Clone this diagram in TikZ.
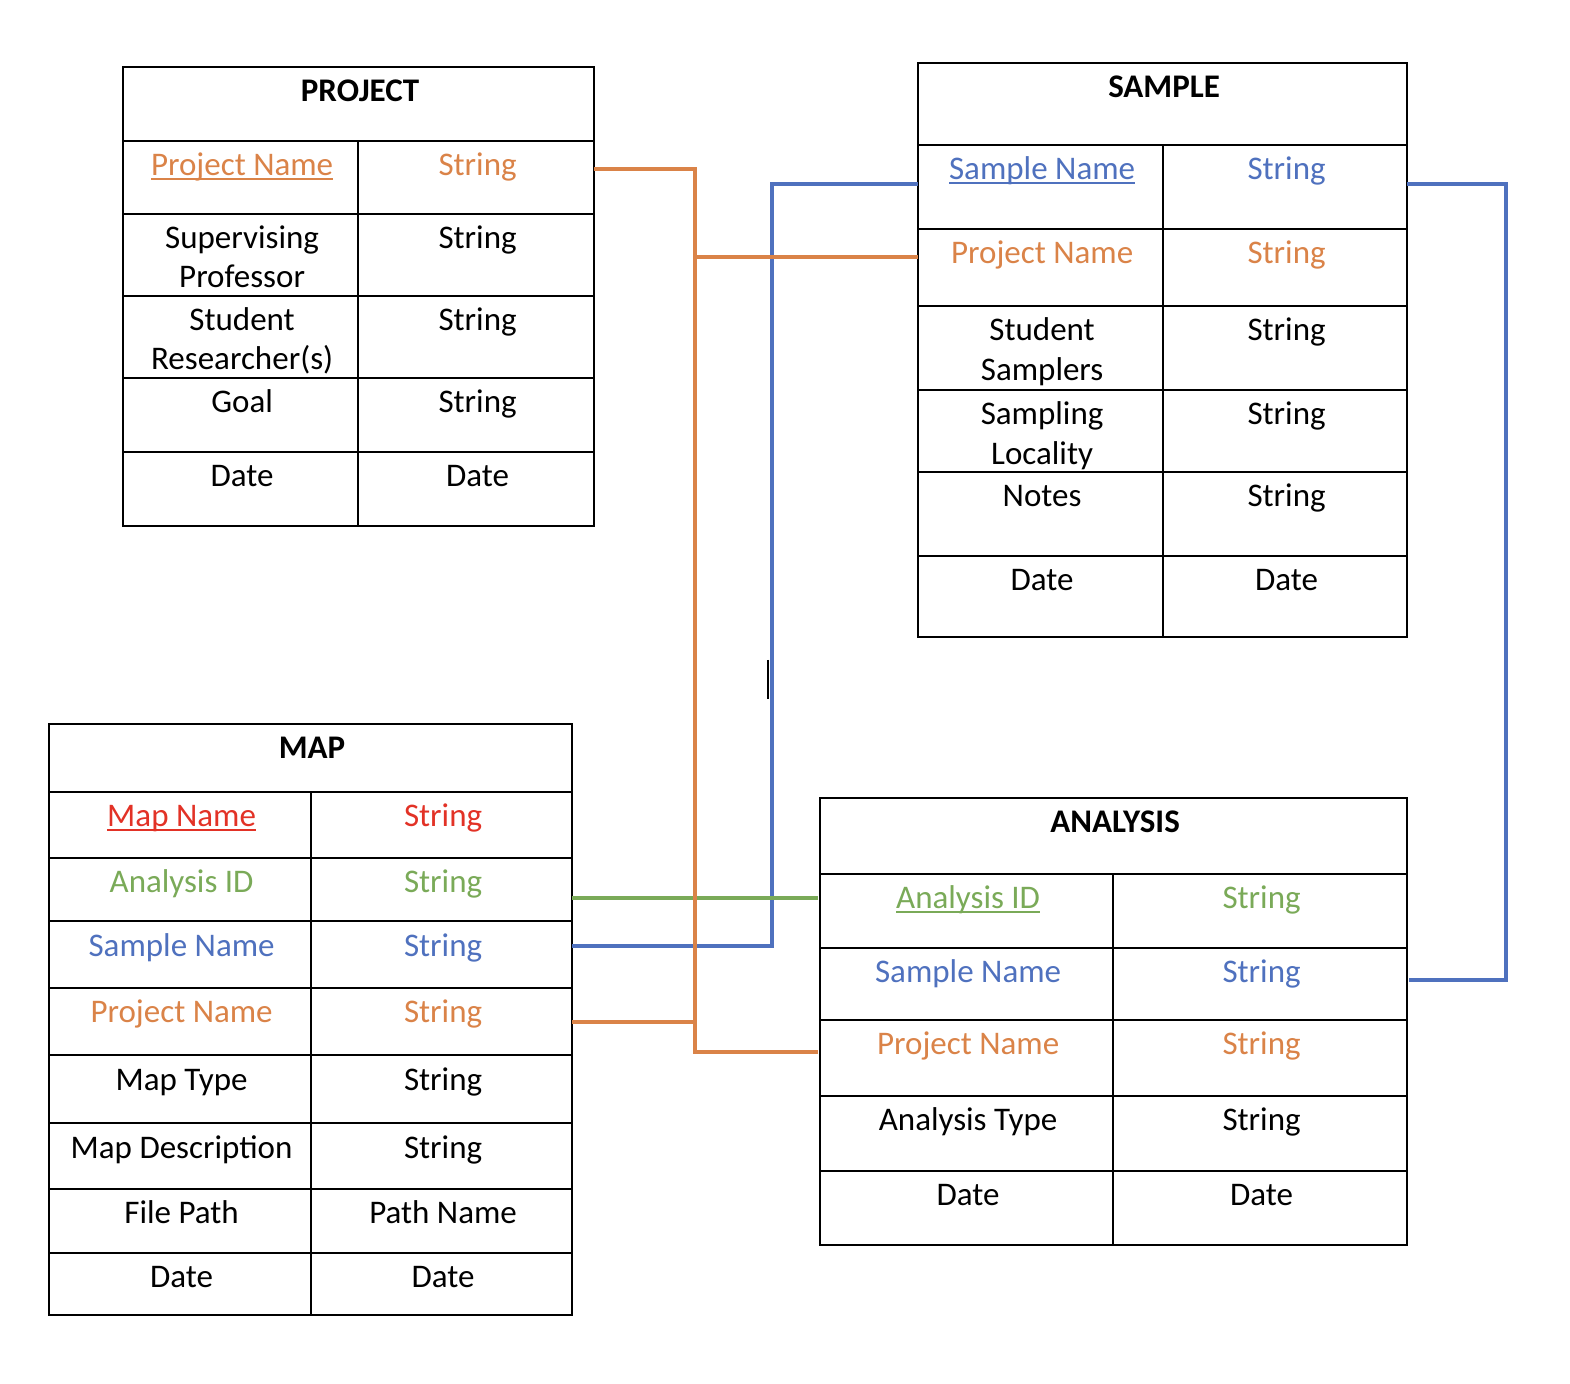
\documentclass[tikz,border=0pt]{standalone}
\usepackage{fontspec}
\setmainfont{Carlito}
\definecolor{orng}{RGB}{218,131,72}
\definecolor{blu}{RGB}{79,113,190}
\definecolor{grn}{RGB}{122,170,88}
\definecolor{rd}{RGB}{226,50,38}
\newcommand\myul[1]{\leavevmode\setbox0\hbox{#1}\rlap{\rule[-2.2pt]{\wd0}{0.9pt}}\box0}
\begin{document}
\begin{tikzpicture}[x=0.5pt,y=-0.5pt,
  tbl/.style={draw=black,line width=1.25pt},
  txt/.style={anchor=base,inner sep=0pt,xshift=0.8pt,yshift=-0.6pt,font=\fontsize{16.5}{18}\selectfont},
  hdr/.style={anchor=base,inner sep=0pt,xshift=0.8pt,yshift=-0.6pt,font=\fontsize{16.5}{18}\selectfont\bfseries},
  conn/.style={line width=1.7pt}]
\useasboundingbox (0,0) rectangle (1570,1384);

% ---------------- PROJECT ----------------
\draw[tbl] (123,67) rectangle (594,526);
\foreach \y in {141,214,296,378,452} \draw[tbl] (123,\y) -- (594,\y);
\draw[tbl] (358,141) -- (358,526);
\node[hdr] (p-h) at (358.5,100) {PROJECT};
\node[txt,orng] (p-1a) at (240.5,174) {\myul{Project Name}};
\node[txt,orng] (p-1b) at (476,174) {String};
\node[txt] (p-2a) at (240.5,247) {Supervising};
\node[txt] (p-2c) at (240.5,286) {Professor};
\node[txt] (p-2b) at (476,247) {String};
\node[txt] (p-3a) at (240.5,329) {Student};
\node[txt] (p-3c) at (240.5,368) {Researcher(s)};
\node[txt] (p-3b) at (476,329) {String};
\node[txt] (p-4a) at (240.5,411) {Goal};
\node[txt] (p-4b) at (476,411) {String};
\node[txt] (p-5a) at (240.5,485) {Date};
\node[txt] (p-5b) at (476,485) {Date};

% ---------------- SAMPLE ----------------
\draw[tbl] (918,63) rectangle (1407,637);
\foreach \y in {145,229,306,390,472,556} \draw[tbl] (918,\y) -- (1407,\y);
\draw[tbl] (1163,145) -- (1163,637);
\node[hdr] (s-h) at (1162.5,96) {SAMPLE};
\node[txt,blu] (s-1a) at (1040.5,178) {\myul{Sample Name}};
\node[txt,blu] (s-1b) at (1285,178) {String};
\node[txt,orng] (s-2a) at (1040.5,262) {Project Name};
\node[txt,orng] (s-2b) at (1285,262) {String};
\node[txt] (s-3a) at (1040.5,339) {Student};
\node[txt] (s-3c) at (1040.5,379) {Samplers};
\node[txt] (s-3b) at (1285,339) {String};
\node[txt] (s-4a) at (1040.5,423) {Sampling};
\node[txt] (s-4c) at (1040.5,463) {Locality};
\node[txt] (s-4b) at (1285,423) {String};
\node[txt] (s-5a) at (1040.5,505) {Notes};
\node[txt] (s-5b) at (1285,505) {String};
\node[txt] (s-6a) at (1040.5,589) {Date};
\node[txt] (s-6b) at (1285,589) {Date};

% ---------------- MAP ----------------
\draw[tbl] (49,724) rectangle (572,1315);
\foreach \y in {792,858,921,988,1055,1123,1189,1253} \draw[tbl] (49,\y) -- (572,\y);
\draw[tbl] (311,792) -- (311,1315);
\node[hdr] (m-h) at (310.5,757) {MAP};
\node[txt,rd] (m-1a) at (180,825) {\myul{Map Name}};
\node[txt,rd] (m-1b) at (441.5,825) {String};
\node[txt,grn] (m-2a) at (180,891) {Analysis ID};
\node[txt,grn] (m-2b) at (441.5,891) {String};
\node[txt,blu] (m-3a) at (180,955) {Sample Name};
\node[txt,blu] (m-3b) at (441.5,955) {String};
\node[txt,orng] (m-4a) at (180,1021) {Project Name};
\node[txt,orng] (m-4b) at (441.5,1021) {String};
\node[txt] (m-5a) at (180,1089) {Map Type};
\node[txt] (m-5b) at (441.5,1089) {String};
\node[txt] (m-6a) at (180,1157) {Map Description};
\node[txt] (m-6b) at (441.5,1157) {String};
\node[txt] (m-7a) at (180,1222) {File Path};
\node[txt] (m-7b) at (441.5,1222) {Path Name};
\node[txt] (m-8a) at (180,1286) {Date};
\node[txt] (m-8b) at (441.5,1286) {Date};

% ---------------- ANALYSIS ----------------
\draw[tbl] (820,798) rectangle (1407,1245);
\foreach \y in {874,948,1020,1096,1171} \draw[tbl] (820,\y) -- (1407,\y);
\draw[tbl] (1113,874) -- (1113,1245);
\node[hdr] (a-h) at (1113.5,831) {ANALYSIS};
\node[txt,grn] (a-1a) at (966.5,907) {\myul{Analysis ID}};
\node[txt,grn] (a-1b) at (1260,907) {String};
\node[txt,blu] (a-2a) at (966.5,981) {Sample Name};
\node[txt,blu] (a-2b) at (1260,981) {String};
\node[txt,orng] (a-3a) at (966.5,1053) {Project Name};
\node[txt,orng] (a-3b) at (1260,1053) {String};
\node[txt] (a-4a) at (966.5,1129) {Analysis Type};
\node[txt] (a-4b) at (1260,1129) {String};
\node[txt] (a-5a) at (966.5,1204) {Date};
\node[txt] (a-5b) at (1260,1204) {Date};

% ---------------- connector end points ----------------
\coordinate (P-pn) at (594,169);
\coordinate (ojunc) at (695,169);
\coordinate (S-pn) at (918,257);
\coordinate (M-pn) at (572,1022);
\coordinate (A-pn) at (818,1052);
\coordinate (S-snl) at (918,184);
\coordinate (bjunc) at (772,184);
\coordinate (M-sn) at (572,946);
\coordinate (S-snr) at (1407,184);
\coordinate (rjunc) at (1506,184);
\coordinate (A-sn) at (1409,980);
\coordinate (M-aid) at (572,898);
\coordinate (A-aid) at (818,898);

% ---------------- connectors ----------------
\draw[conn,blu] (S-snl) -- (bjunc) |- (M-sn);
\draw[conn,blu] (S-snr) -- (rjunc) |- (A-sn);
\draw[conn,grn] (M-aid) -- (A-aid);
\draw[conn,orng] (P-pn) -- (ojunc) |- (A-pn);
\draw[conn,orng] (S-pn) -- (S-pn -| ojunc);
\draw[conn,orng] (M-pn) -- (M-pn -| ojunc);

% stray text cursor mark
\draw[line width=1.2pt] (768,660) -- (768,699);
\end{tikzpicture}
\end{document}
